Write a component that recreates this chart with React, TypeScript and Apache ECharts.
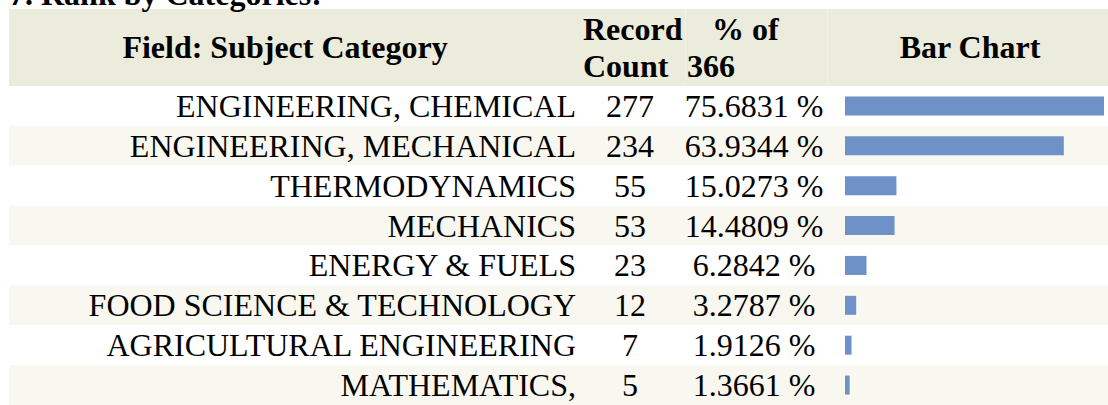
import React, { useEffect, useRef } from "react";
import * as echarts from "echarts";

const pageTitle = "7. Rank by Categories:";
const categories = [
  "ENGINEERING, CHEMICAL",
  "ENGINEERING, MECHANICAL",
  "THERMODYNAMICS",
  "MECHANICS",
  "ENERGY & FUELS",
  "FOOD SCIENCE & TECHNOLOGY",
  "AGRICULTURAL ENGINEERING",
  "MATHEMATICS,",
];
const recordCounts = [277, 234, 55, 53, 23, 12, 7, 5];
const percentLabels = [
  "75.6831 %",
  "63.9344 %",
  "15.0273 %",
  "14.4809 %",
  "6.2842 %",
  "3.2787 %",
  "1.9126 %",
  "1.3661 %",
];
const totalRecords = 366;
const headerField = "Field: Subject Category";
const headerCount = ["Record", "Count"];
const headerPercent = ["% of", String(totalRecords)];
const headerBar = "Bar Chart";

const FONT = "Liberation Serif";

export default function App() {
  const ref = useRef<HTMLDivElement>(null);

  useEffect(() => {
    if (!ref.current) return;
    const chart = echarts.init(ref.current, undefined, { renderer: "svg" });

    const labelBase = {
      fontFamily: FONT,
      fontSize: 32,
      color: "#000000",
      interval: 0,
    };
    const hiddenAxisParts = {
      axisLine: { show: false },
      axisTick: { show: false },
      splitLine: { show: false },
    };

    const headerText = (text: string, x: number, y: number, align: string) => ({
      type: "text",
      x,
      y,
      silent: true,
      style: {
        text,
        fontFamily: FONT,
        fontSize: 32,
        fontWeight: "bold",
        fill: "#000000",
        align,
        verticalAlign: "middle",
      },
    });

    chart.setOption({
      animation: false,
      backgroundColor: "#ffffff",
      grid: [
        { left: 9, right: 0, top: 86, height: 324 },
        { left: 845, right: 4, top: 86, height: 324 },
      ],
      xAxis: [
        { type: "value", gridIndex: 0, show: false, min: 0, max: 1 },
        {
          type: "value",
          gridIndex: 1,
          show: false,
          min: 0,
          max: Math.max(...recordCounts),
        },
      ],
      yAxis: [
        {
          type: "category",
          gridIndex: 0,
          inverse: true,
          data: categories,
          ...hiddenAxisParts,
          axisLabel: { show: false },
          splitArea: {
            show: true,
            interval: 0,
            areaStyle: { color: ["#FFFFFF", "#F8F8F1"] },
          },
        },
        {
          type: "category",
          gridIndex: 1,
          position: "left",
          inverse: true,
          data: categories,
          ...hiddenAxisParts,
          axisLabel: { ...labelBase, align: "right", margin: 269 },
        },
        {
          type: "category",
          gridIndex: 1,
          position: "left",
          offset: 0,
          inverse: true,
          data: recordCounts.map(String),
          ...hiddenAxisParts,
          axisLabel: { ...labelBase, align: "center", margin: 215 },
        },
        {
          type: "category",
          gridIndex: 1,
          position: "left",
          offset: 0,
          inverse: true,
          data: percentLabels,
          ...hiddenAxisParts,
          axisLabel: { ...labelBase, align: "center", margin: 91 },
        },
      ],
      series: [
        {
          type: "bar",
          xAxisIndex: 1,
          yAxisIndex: 1,
          data: recordCounts,
          barWidth: 19,
          itemStyle: { color: "#6E91C8" },
          silent: true,
        },
      ],
      graphic: [
        {
          type: "rect",
          silent: true,
          z: -1,
          shape: { x: 9, y: 9, width: 1099, height: 77 },
          style: { fill: "#ECECDD" },
        },
        {
          type: "line",
          silent: true,
          shape: { x1: 685.5, y1: 9, x2: 685.5, y2: 86 },
          style: { stroke: "#F2F2E7", lineWidth: 1 },
        },
        {
          type: "line",
          silent: true,
          shape: { x1: 827.5, y1: 9, x2: 827.5, y2: 86 },
          style: { stroke: "#F2F2E7", lineWidth: 1 },
        },
        headerText(pageTitle, 9, -6, "left"),
        headerText(headerField, 285, 47, "center"),
        headerText(headerCount[0], 583, 29, "left"),
        headerText(headerCount[1], 583, 66, "left"),
        headerText(headerPercent[0], 712, 29, "left"),
        headerText(headerPercent[1], 687, 66, "left"),
        headerText(headerBar, 970, 47, "center"),
      ],
    });

    return () => chart.dispose();
  }, []);

  return (
    <div
      ref={ref}
      style={{
        position: "absolute",
        left: 0,
        top: 0,
        width: 1108,
        height: 405,
      }}
    />
  );
}
